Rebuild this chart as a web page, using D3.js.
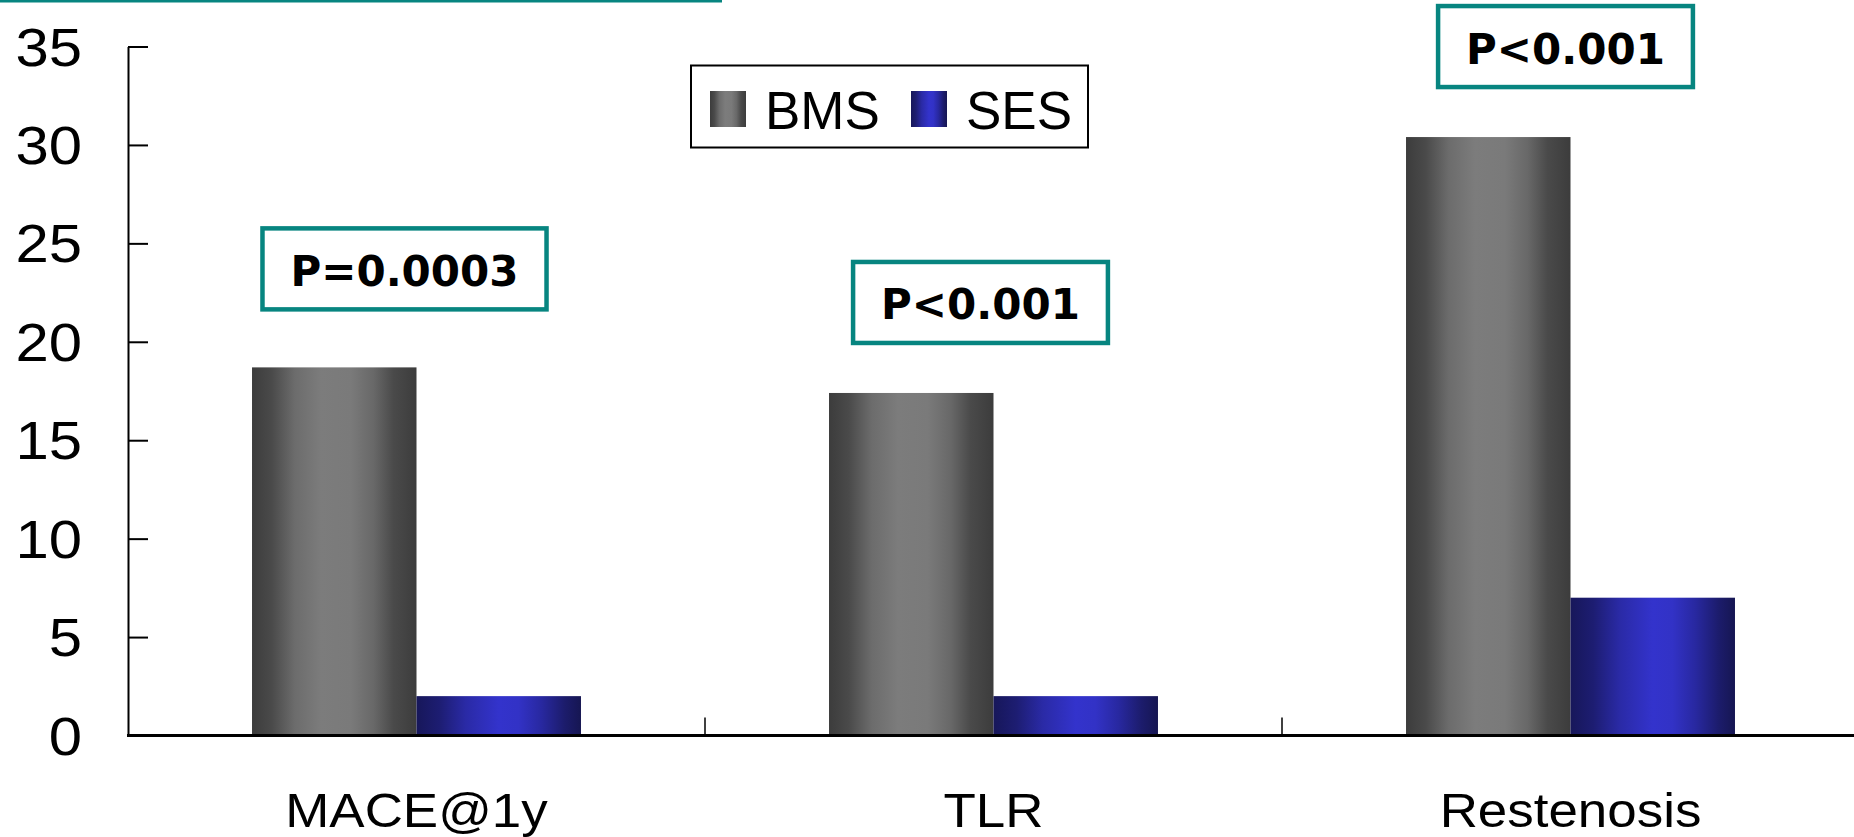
<!DOCTYPE html>
<html>
<head>
<meta charset="utf-8">
<script src="https://cdn.jsdelivr.net/npm/d3@7"></script>
<style>
  html, body { margin: 0; padding: 0; background: #fff; }
  svg { display: block; }
</style>
</head>
<body>
<svg id="chart" width="1854" height="837"></svg>
<script>
// Outcome rates (%) for bare-metal vs sirolimus-eluting stents
const categories = ["MACE@1y", "TLR", "Restenosis"];
const seriesNames = ["BMS", "SES"];
const bmsValues = [18.7, 17.4, 30.4];
const sesValues = [2.0, 2.0, 7.0];
const pLabels = ["P=0.0003", "P<0.001", "P<0.001"];
const yTicks = [0, 5, 10, 15, 20, 25, 30, 35];

const W = 1854, H = 837;
const svg = d3.select("#chart");
const defs = svg.append("defs");

const TEAL = "#078580";
const SANS = "'Liberation Sans', Arial, sans-serif";

// Cylinder-like horizontal shading for each series
function addGradient(id, stops) {
  const g = defs.append("linearGradient").attr("id", id)
    .attr("x1", "0%").attr("x2", "100%").attr("y1", "0%").attr("y2", "0%");
  stops.forEach(([o, c]) => g.append("stop").attr("offset", o).attr("stop-color", c));
}
addGradient("grad-BMS", [
  [0, "#3c3c3c"], [0.12, "#4a4a4a"], [0.26, "#6c6c6c"], [0.42, "#7c7c7c"],
  [0.6, "#7a7a7a"], [0.74, "#686868"], [0.86, "#4a4a4a"], [1, "#3c3c3c"]
]);
addGradient("grad-SES", [
  [0, "#17175a"], [0.14, "#1d1d72"], [0.3, "#2a2aa6"], [0.5, "#3333cc"],
  [0.62, "#3232c6"], [0.76, "#2828a0"], [0.9, "#1c1c6c"], [1, "#161652"]
]);

// Scales
const plotLeft = 128, plotBottom = 735.5, plotTop = 46.5;
const catWidth = 577;
const x0 = d3.scaleBand().domain(categories)
  .range([plotLeft, plotLeft + catWidth * categories.length]).padding(0);
const x1 = d3.scaleBand().domain(seriesNames)
  .range([0, x0.bandwidth()]).paddingInner(0).paddingOuter(0.754);
const y = d3.scaleLinear().domain([0, 35]).range([plotBottom, plotTop]);

// Teal rule along the top edge
svg.append("rect").attr("x", 0).attr("y", 0).attr("width", 722).attr("height", 2.5)
  .attr("fill", TEAL);

// Bars
const rows = categories.map((c, i) => ({ cat: c, BMS: bmsValues[i], SES: sesValues[i] }));
const groups = svg.append("g").selectAll("g").data(rows).join("g")
  .attr("transform", d => `translate(${x0(d.cat)},0)`);
groups.selectAll("rect")
  .data(d => seriesNames.map(s => ({ s, v: d[s] })))
  .join("rect")
  .attr("x", d => x1(d.s))
  .attr("width", x1.bandwidth())
  .attr("y", d => y(d.v))
  .attr("height", d => y(0) - y(d.v))
  .attr("fill", d => `url(#grad-${d.s})`);

// Y axis with inward ticks
const yAxis = d3.axisLeft(y).tickValues(yTicks).tickSizeInner(-20).tickSizeOuter(0).tickPadding(46);
const gy = svg.append("g").attr("transform", `translate(${plotLeft},0)`).call(yAxis);
gy.select(".domain").attr("stroke", "#000").attr("stroke-width", 2);
gy.selectAll(".tick line").attr("stroke", "#000").attr("stroke-width", 2);
gy.selectAll(".tick text")
  .attr("x", null).attr("dy", null)
  .attr("transform", "translate(-46,18.5) scale(1.13,1)")
  .attr("text-anchor", "end")
  .attr("font-family", SANS).attr("font-size", 53).attr("fill", "#000");

// X axis baseline and category dividers
svg.append("line").attr("x1", plotLeft - 1).attr("x2", W)
  .attr("y1", plotBottom).attr("y2", plotBottom)
  .attr("stroke", "#000").attr("stroke-width", 3);
svg.append("g").selectAll("line").data(categories.slice(0, -1)).join("line")
  .attr("x1", d => x0(d) + x0.bandwidth()).attr("x2", d => x0(d) + x0.bandwidth())
  .attr("y1", plotBottom).attr("y2", plotBottom - 18)
  .attr("stroke", "#000").attr("stroke-width", 1.5);

// Category labels
svg.append("g").selectAll("text").data(categories).join("text")
  .attr("transform", d => `translate(${x0(d) + x0.bandwidth() / 2},827) scale(1.08,1)`)
  .attr("text-anchor", "middle")
  .attr("font-family", SANS).attr("font-size", 49).attr("fill", "#000")
  .text(d => d);

// Significance boxes above each group
const boxShift = [-12, -13, -5];
const boxLift = [58, 50, 50];
const boxH = 81;
categories.forEach((c, i) => {
  const cx = x0(c) + x0.bandwidth() / 2 + boxShift[i];
  const bottom = y(bmsValues[i]) - boxLift[i];
  const cy = bottom - boxH / 2;
  const g = svg.append("g");
  const rect = g.append("rect").attr("fill", "#fff").attr("stroke", TEAL).attr("stroke-width", 4.5);
  const t = g.append("text").attr("x", cx).attr("y", cy + 17)
    .attr("text-anchor", "middle")
    .attr("font-family", "'DejaVu Sans', Verdana, sans-serif")
    .attr("font-weight", "bold").attr("font-size", 42).attr("fill", "#000")
    .text(pLabels[i]);
  const tw = t.node().getComputedTextLength();
  const bw = tw + 56;
  rect.attr("x", cx - bw / 2).attr("y", cy - boxH / 2).attr("width", bw).attr("height", boxH);
});

// Legend
const legend = svg.append("g");
legend.append("rect").attr("x", 691).attr("y", 65.5).attr("width", 397).attr("height", 82)
  .attr("fill", "#fff").attr("stroke", "#000").attr("stroke-width", 2);
const legendX = [710, 911];
seriesNames.forEach((s, i) => {
  legend.append("rect").attr("x", legendX[i]).attr("y", 91).attr("width", 36).attr("height", 36)
    .attr("fill", `url(#grad-${s})`);
  legend.append("text").attr("x", legendX[i] + 55).attr("y", 128.5)
    .attr("font-family", SANS).attr("font-size", 53).attr("fill", "#000")
    .text(s);
});
</script>
</body>
</html>
